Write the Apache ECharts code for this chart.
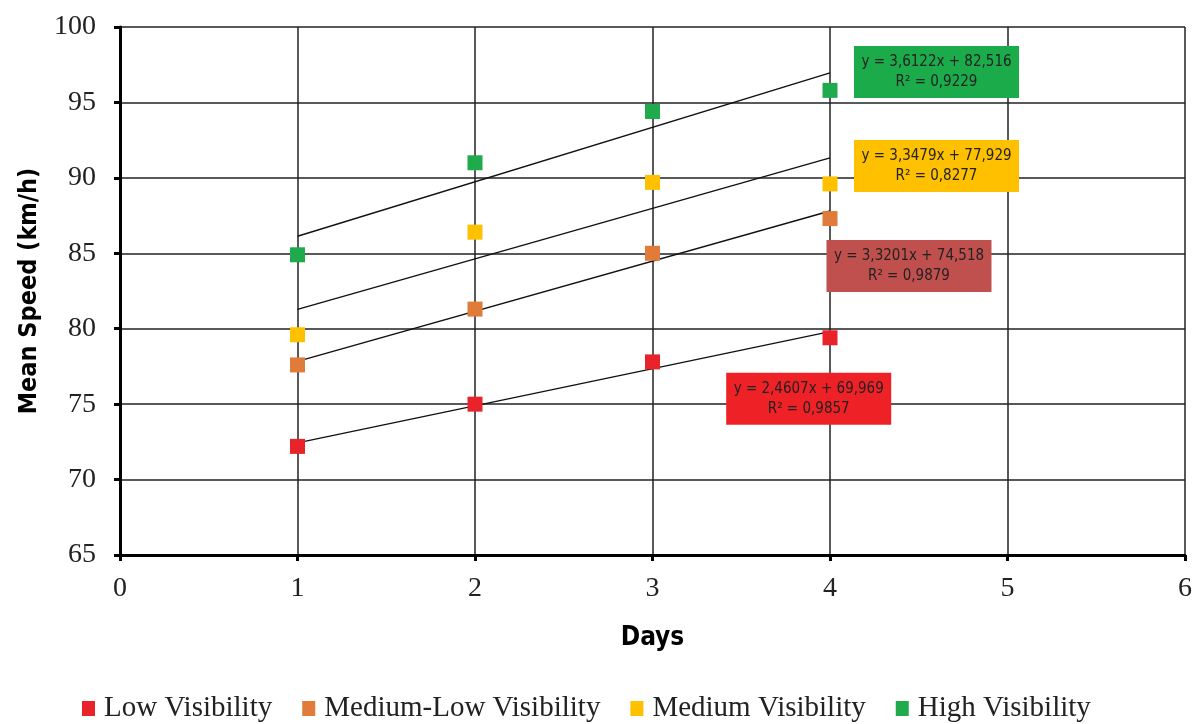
<!DOCTYPE html>
<html><head><meta charset="utf-8">
<script src="https://cdn.jsdelivr.net/npm/echarts@6/dist/echarts.min.js"></script>
<style>html,body{margin:0;padding:0;background:#fff}#c{width:1196px;height:724px}</style>
</head><body><div id="c"></div>
<script>
const seriesNames = ['Low Visibility','Medium-Low Visibility','Medium Visibility','High Visibility'];
const days = [1,2,3,4];
const lowVis = [72.2, 75.0, 77.8, 79.4];
const medLowVis = [77.6, 81.3, 85.0, 87.3];
const medVis = [79.6, 86.4, 89.7, 89.6];
const highVis = [84.9, 91.0, 94.4, 95.8];
// trendline endpoints (x = 1 and x = 4)
const trendX = [1, 4];
const trendLow = [72.43, 79.81];
const trendMedLow = [77.84, 87.80];
const trendMed = [81.28, 91.32];
const trendHigh = [86.13, 96.96];
const eqTexts = [
  'y = 2,4607x + 69,969\nR² = 0,9857',
  'y = 3,3201x + 74,518\nR² = 0,9879',
  'y = 3,3479x + 77,929\nR² = 0,8277',
  'y = 3,6122x + 82,516\nR² = 0,9229'
];
const eqAnchors = [[3.88, 75.35],[4.445, 84.16],[4.60, 90.79],[4.60, 97.02]];
const colors = ['#E8232A','#E07B39','#FFC000','#1FAA4B'];
const boxColors = ['#EE2226','#C0504D','#FFC000','#1CAB4B'];

const values = [lowVis, medLowVis, medVis, highVis];
const trends = [trendLow, trendMedLow, trendMed, trendHigh];
const narrow = "'Liberation Sans Narrow', 'Arial Narrow', 'DejaVu Sans Condensed', sans-serif";
const serif = "'Liberation Serif', 'Times New Roman', serif";

const series = [];
trends.forEach((t, i) => {
  series.push({
    type: 'line', name: 'trend' + i, silent: true, symbol: 'none',
    data: trendX.map((x, k) => [x, t[k]]),
    lineStyle: {color: '#111', width: 1.4}, z: 3,
    markPoint: {
      symbol: 'rect', symbolSize: 0,
      data: [{coord: eqAnchors[i]}],
      label: {
        show: true, formatter: eqTexts[i], position: 'inside',
        backgroundColor: boxColors[i], color: '#222',
        fontFamily: narrow,
        fontSize: 15, lineHeight: 20, width: 151, align: 'center',
        padding: [6, 7, 6, 7]
      }
    }
  });
});
values.forEach((v, i) => {
  series.push({
    type: 'scatter', name: seriesNames[i], symbol: 'rect', symbolSize: 15,
    itemStyle: {color: colors[i], opacity: 1}, z: 5,
    data: days.map((d, k) => [d, v[k]])
  });
});

const chart = echarts.init(document.getElementById('c'), null, {renderer: 'canvas'});
chart.setOption({
  animation: false,
  backgroundColor: '#fff',
  grid: {left: 120, right: 11, top: 27, bottom: 169, containLabel: false, outerBoundsMode: 'none'},
  xAxis: {
    type: 'value', min: 0, max: 6, interval: 1,
    name: 'Days', nameLocation: 'middle', nameGap: 70,
    nameTextStyle: {fontFamily: narrow, fontWeight: 'bold', fontSize: 26, color: '#000'},
    axisLine: {show: true, lineStyle: {color: '#000', width: 3}},
    axisTick: {show: true, length: 6, lineStyle: {color: '#000', width: 3}},
    axisLabel: {fontFamily: serif, fontSize: 28, color: '#222', margin: 20},
    splitLine: {show: true, lineStyle: {color: '#222', width: 1.5}}
  },
  yAxis: {
    type: 'value', min: 65, max: 100, interval: 5,
    name: 'Mean Speed (km/h)', nameLocation: 'middle', nameGap: 78, nameRotate: 90,
    nameTextStyle: {fontFamily: narrow, fontWeight: 'bold', fontSize: 25, color: '#000'},
    axisLine: {show: true, lineStyle: {color: '#000', width: 3}},
    axisTick: {show: true, length: 6, lineStyle: {color: '#000', width: 3}},
    axisLabel: {fontFamily: serif, fontSize: 28, color: '#222', margin: 24},
    splitLine: {show: true, lineStyle: {color: '#222', width: 1.5}}
  },
  legend: {
    data: seriesNames, top: 689, left: 77,
    icon: 'rect', itemWidth: 13, itemHeight: 15, itemGap: 30,
    itemStyle: {opacity: 1},
    textStyle: {fontFamily: serif, fontSize: 29, color: '#222', padding: [0, 0, 0, 4]}
  },
  series: series
});
</script></body></html>
